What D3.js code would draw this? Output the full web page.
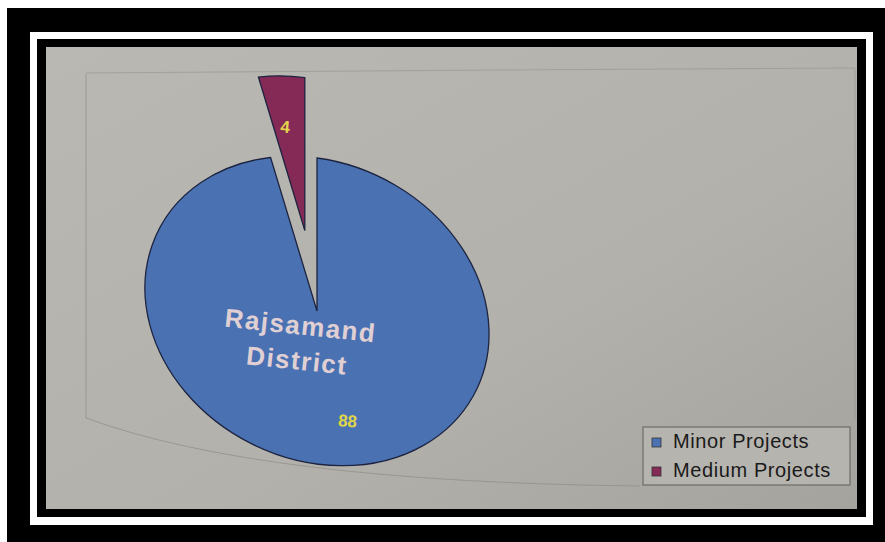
<!DOCTYPE html>
<html>
<head>
<meta charset="utf-8">
<script src="https://cdn.jsdelivr.net/npm/d3@7"></script>
<style>
  html, body { margin: 0; padding: 0; background: #fff; }
  #container { width: 885px; height: 542px; }
</style>
</head>
<body>
<div id="container"></div>
<script>
// Chart data
const categories = ["Minor Projects", "Medium Projects"];
const values = [88, 4];
const centerLabel = ["Rajsamand", "District"];

const colours = ["#4a72b3", "#852957"];

// Page size
const width = 885;
const height = 542;

// Pie placement (the photo is slightly skewed, so the circle is drawn as an ellipse)
const cx = 317;
const cy = 311;
const radius = 150;
const sx = 1.147;    // horizontal stretch
const skewY = 0.153; // vertical shear
const sy = 1.02;     // vertical stretch
const explode = 78;  // pull-out distance of the small slice
const labelNudge = [[14, 0], [-3, 6]];

const project = (x, y) => [cx + sx * x, cy + skewY * x + sy * y];

const svg = d3.create("svg").attr("width", width).attr("height", height);
document.getElementById("container").appendChild(svg.node());

// Photo background gradient
const defs = svg.append("defs");
const grad = defs.append("linearGradient").attr("id", "paper")
  .attr("x1", 0).attr("y1", 0).attr("x2", 1).attr("y2", 1);
grad.append("stop").attr("offset", "0%").attr("stop-color", "#bab8b3");
grad.append("stop").attr("offset", "60%").attr("stop-color", "#b3b1ac");
grad.append("stop").attr("offset", "100%").attr("stop-color", "#a5a39e");

// Frame: outer black, white line, inner black, paper
svg.append("rect").attr("x", 7).attr("y", 8).attr("width", width - 7).attr("height", height - 8).attr("fill", "#000");
svg.append("rect").attr("x", 30).attr("y", 32).attr("width", 843).attr("height", 493).attr("fill", "#fff");
svg.append("rect").attr("x", 37).attr("y", 39).attr("width", 829).attr("height", 478).attr("fill", "#000");
svg.append("rect").attr("x", 46).attr("y", 47).attr("width", 811).attr("height", 462).attr("fill", "url(#paper)");

// faint chart-area border printed on the page
svg.append("path")
  .attr("d", "M86,74 L86,418 Q260,482 640,486")
  .attr("fill", "none").attr("stroke", "#8e8c88").attr("stroke-width", 1).attr("opacity", 0.7);
svg.append("path")
  .attr("d", "M86,73 L500,70 L855,68 L855,420")
  .attr("fill", "none").attr("stroke", "#8e8c88").attr("stroke-width", 1).attr("opacity", 0.5);

// Pie
const pie = d3.pie().sort(null).value(d => d)(values);
const arc = d3.arc().innerRadius(0).outerRadius(radius);

const pieG = svg.append("g")
  .attr("transform", `matrix(${sx},${skewY},0,${sy},${cx},${cy})`);

pieG.selectAll("path")
  .data(pie)
  .join("path")
  .attr("d", arc)
  .attr("transform", (d, i) => {
    if (i === 0) return null;
    const a = (d.startAngle + d.endAngle) / 2;
    return `translate(${Math.sin(a) * explode},${-Math.cos(a) * explode})`;
  })
  .attr("fill", (d, i) => colours[i])
  .attr("stroke", "#1d2440")
  .attr("stroke-width", 1.3)
  .attr("vector-effect", "non-scaling-stroke");

// Value labels
svg.selectAll("text.value")
  .data(pie)
  .join("text")
  .attr("class", "value")
  .attr("transform", (d, i) => {
    const a = (d.startAngle + d.endAngle) / 2;
    const r = radius * 0.71 + (i === 0 ? 0 : explode);
    const [px, py] = project(Math.sin(a) * r, -Math.cos(a) * r);
    return `translate(${px + labelNudge[i][0]},${py + labelNudge[i][1]}) rotate(5)`;
  })
  .attr("text-anchor", "middle")
  .attr("dy", "0.35em")
  .attr("font-family", "Liberation Sans, Arial, sans-serif")
  .attr("font-weight", "bold")
  .attr("font-size", 17)
  .attr("fill", "#e2d64a")
  .text(d => d.data);

// Centre label
svg.append("text")
  .attr("transform", "translate(299,341) rotate(6)")
  .attr("text-anchor", "middle")
  .attr("font-family", "Liberation Sans, Arial, sans-serif")
  .attr("font-weight", "bold")
  .attr("font-size", 26)
  .attr("letter-spacing", 1.5)
  .attr("fill", "#e0d0d4")
  .selectAll("tspan")
  .data(centerLabel)
  .join("tspan")
  .attr("x", 0)
  .attr("dy", (d, i) => i === 0 ? "-0.25em" : "1.35em")
  .text(d => d);

// Legend
const legend = svg.append("g").attr("transform", "translate(643,427)");
legend.append("rect")
  .attr("width", 207).attr("height", 58)
  .attr("fill", "#b6b4af")
  .attr("stroke", "#6e6c68").attr("stroke-width", 1.2);

const item = legend.selectAll("g.item")
  .data(categories)
  .join("g")
  .attr("class", "item")
  .attr("transform", (d, i) => `translate(9,${11 + i * 29})`);

item.append("rect")
  .attr("width", 9).attr("height", 9)
  .attr("fill", (d, i) => colours[i])
  .attr("stroke", "#333").attr("stroke-width", 0.8);

item.append("text")
  .attr("x", 21).attr("y", 10)
  .attr("font-family", "Liberation Sans, Arial, sans-serif")
  .attr("font-size", 20)
  .attr("letter-spacing", 0.6)
  .attr("fill", "#1a1a1a")
  .text(d => d);
</script>
</body>
</html>
